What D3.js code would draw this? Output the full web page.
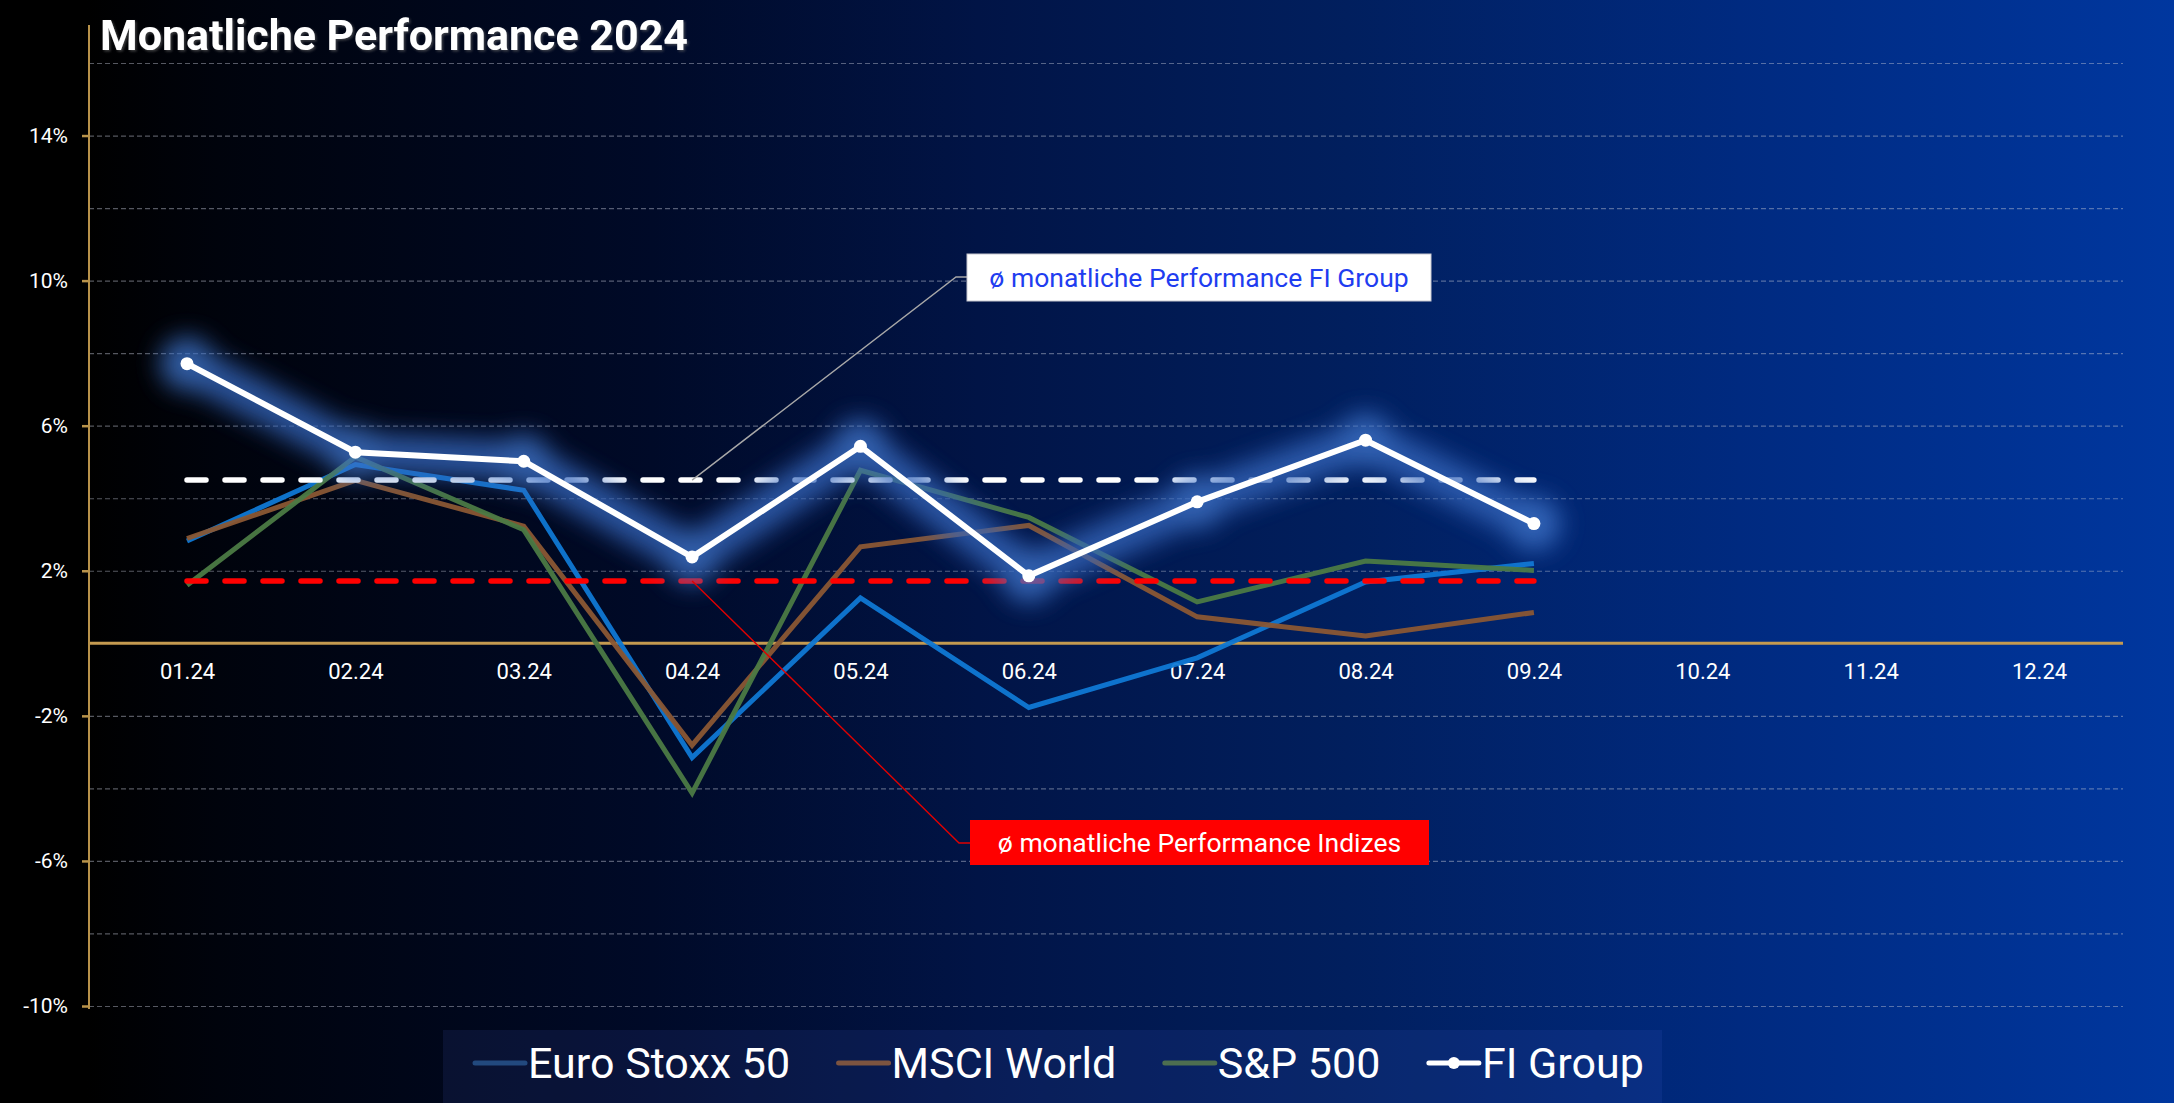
<!DOCTYPE html>
<html>
<head>
<meta charset="utf-8">
<script src="https://cdn.jsdelivr.net/npm/d3@7"></script>
<style>
html,body{margin:0;padding:0;background:#000;overflow:hidden;}
svg{display:block;font-family:Roboto,"Noto Sans",sans-serif;}
</style>
</head>
<body>
<svg id="chart" width="2174" height="1103"></svg>
<script>
// ---- data ----
const months = ["01.24","02.24","03.24","04.24","05.24","06.24","07.24","08.24","09.24","10.24","11.24","12.24"];
const euroStoxx = [2.82, 4.93, 4.22, -3.15, 1.25, -1.77, -0.40, 1.69, 2.20];
const msciWorld = [2.89, 4.49, 3.23, -2.81, 2.66, 3.25, 0.73, 0.20, 0.85];
const sp500     = [1.60, 5.14, 3.13, -4.13, 4.77, 3.47, 1.14, 2.27, 2.01];
const fiGroup   = [7.71, 5.27, 5.02, 2.38, 5.43, 1.86, 3.90, 5.60, 3.30];
const avgFI = 4.50;
const avgIndices = 1.72;
const yTickLabels = [14, 10, 6, 2, -2, -6, -10];
const yGridValues = [-10,-8,-6,-4,-2,2,4,6,8,10,12,14,16];
const seriesNames = ["Euro Stoxx 50","MSCI World","S&P 500","FI Group"];
const titleText = "Monatliche Performance 2024";
const noteFI = "ø monatliche Performance FI Group";
const noteIdx = "ø monatliche Performance Indizes";

// ---- setup ----
const W = 2174, H = 1103;
const svg = d3.select("#chart");
const defs = svg.append("defs");

const bg = defs.append("linearGradient").attr("id","bg").attr("x1","0").attr("x2","1").attr("y1","0").attr("y2","0");
[[0,"#000000"],[0.04,"#000000"],[0.1,"#00030c"],[0.3,"#000a28"],[0.45,"#011446"],[0.62,"#011f5e"],[0.8,"#002a80"],[1,"#00379f"]]
  .forEach(([o,c])=>bg.append("stop").attr("offset",o).attr("stop-color",c));

const glow = defs.append("filter").attr("id","glow")
  .attr("filterUnits","userSpaceOnUse").attr("x",100).attr("y",250).attr("width",1550).attr("height",450);
glow.append("feGaussianBlur").attr("stdDeviation",12);

const tshadow = defs.append("filter").attr("id","tshadow").attr("x","-5%").attr("y","-20%").attr("width","110%").attr("height","150%");
tshadow.append("feDropShadow").attr("dx",1.5).attr("dy",1.5).attr("stdDeviation",0.8).attr("flood-color","#666").attr("flood-opacity",0.6);

svg.append("rect").attr("width",W).attr("height",H).attr("fill","url(#bg)");

const x = d3.scalePoint().domain(months).range([187, 2039]);
const y = d3.scaleLinear().domain([-10, 16]).range([1006, 63]);
const left = 89, right = 2123;

// gridlines
const grid = svg.append("g").attr("transform",`translate(${left},0)`)
  .call(d3.axisLeft(y).tickValues(yGridValues).tickSize(-(right-left)).tickFormat(""));
grid.select(".domain").remove();
grid.selectAll(".tick line").attr("stroke","rgba(190,195,210,0.45)").attr("stroke-width",1.2).attr("stroke-dasharray","5,3");

// zero line
svg.append("line").attr("x1",left).attr("x2",right).attr("y1",y(0)).attr("y2",y(0))
  .attr("stroke","#c49a50").attr("stroke-width",3);

// y axis
const yAxis = svg.append("g").attr("transform",`translate(${left},0)`)
  .call(d3.axisLeft(y).tickValues(yTickLabels).tickSize(7).tickPadding(14).tickFormat(d=>d+"%"));
yAxis.select(".domain").attr("d",`M0,25V1009`).attr("stroke","#b8924a").attr("stroke-width",2);
yAxis.selectAll(".tick line").attr("stroke","#b8924a").attr("stroke-width",2.5);
yAxis.selectAll(".tick text").attr("fill","#fff").attr("font-size",21).attr("font-family","Roboto");

// x axis labels
const xAxis = svg.append("g").attr("transform",`translate(0,${y(0)})`)
  .call(d3.axisBottom(x).tickSize(0).tickPadding(20));
xAxis.select(".domain").remove();
xAxis.selectAll(".tick text").attr("fill","#fff").attr("font-size",22).attr("font-family","Roboto");

// title
svg.append("text").attr("x",100).attr("y",50).attr("fill","#fff")
  .attr("font-size",42).attr("font-weight",700).attr("font-family","Roboto")
  .attr("textLength",588).attr("lengthAdjust","spacingAndGlyphs")
  .attr("filter","url(#tshadow)").text(titleText);

// series lines
const line = d3.line().x((d,i)=>x(months[i])).y(d=>y(d));
const seriesColors = ["#0f78d4","#8a5734","#4b7a44","#ffffff"];
[[euroStoxx,0],[msciWorld,1],[sp500,2]].forEach(([data,k])=>{
  svg.append("path").datum(data).attr("d",line).attr("fill","none")
    .attr("stroke",seriesColors[k]).attr("stroke-width",5).attr("opacity",0.95);
});

// average lines
const xs = x(months[0]), xe = x(months[fiGroup.length-1]);
svg.append("line").attr("x1",xs).attr("x2",xe).attr("y1",y(avgIndices)).attr("y2",y(avgIndices))
  .attr("stroke","#ff0000").attr("stroke-width",5.5).attr("stroke-dasharray","19,19").attr("stroke-linecap","round");
svg.append("line").attr("x1",xs).attr("x2",xe).attr("y1",y(avgFI)).attr("y2",y(avgFI))
  .attr("stroke","#ffffff").attr("stroke-width",5.5).attr("stroke-dasharray","19,19").attr("stroke-linecap","round");

// glow
const gGlow = svg.append("g").attr("filter","url(#glow)").attr("opacity",0.8);
gGlow.append("path").datum(fiGroup).attr("d",line).attr("fill","none")
  .attr("stroke","#3466bc").attr("stroke-width",40).attr("stroke-linejoin","round");
gGlow.selectAll("circle").data(fiGroup).join("circle")
  .attr("cx",(d,i)=>x(months[i])).attr("cy",d=>y(d)).attr("r",27).attr("fill","#3e72c8");

// FI line
svg.append("path").datum(fiGroup).attr("d",line).attr("fill","none")
  .attr("stroke","#fff").attr("stroke-width",6);
svg.append("g").selectAll("circle").data(fiGroup).join("circle")
  .attr("cx",(d,i)=>x(months[i])).attr("cy",d=>y(d)).attr("r",6.5).attr("fill","#fff");

// annotations
const ax = x(months[3]);
// FI note
svg.append("polyline").attr("points",`${ax},${y(avgFI)} 956,277 967,277`)
  .attr("fill","none").attr("stroke","#a8a8a8").attr("stroke-width",1.4);
svg.append("rect").attr("x",967).attr("y",254).attr("width",464).attr("height",47)
  .attr("fill","#fff").attr("stroke","#c8c8d0").attr("stroke-width",1);
svg.append("text").attr("x",1199).attr("y",287).attr("text-anchor","middle")
  .attr("fill","#1f3df0").attr("font-size",26.5).attr("font-family","Roboto").text(noteFI);
// Indices note
svg.append("polyline").attr("points",`${ax},${y(avgIndices)} 959,843 970,843`)
  .attr("fill","none").attr("stroke","#e00000").attr("stroke-width",1.4);
svg.append("rect").attr("x",970).attr("y",820).attr("width",459).attr("height",45)
  .attr("fill","#ff0000");
svg.append("text").attr("x",1199.5).attr("y",852).attr("text-anchor","middle")
  .attr("fill","#fff").attr("font-size",26.5).attr("font-family","Roboto").text(noteIdx);

// legend
svg.append("rect").attr("x",443).attr("y",1030).attr("width",1219).attr("height",73)
  .attr("fill","rgba(70,100,210,0.12)");
const legendColors = ["#22497e","#7d5440","#4d6e50","#ffffff"];
let lx = 475;
seriesNames.forEach((name,i)=>{
  const g = svg.append("g");
  g.append("line").attr("x1",lx).attr("x2",lx+50).attr("y1",1063).attr("y2",1063)
    .attr("stroke",legendColors[i]).attr("stroke-width",5).attr("stroke-linecap","round");
  if(i===3) g.append("circle").attr("cx",lx+25).attr("cy",1063).attr("r",6).attr("fill","#fff");
  const t = g.append("text").attr("x",lx+53).attr("y",1078).attr("fill","#fff")
    .attr("font-size",43).attr("font-family","Roboto").text(name);
  lx += 53 + t.node().getComputedTextLength() + 48.5;
});
</script>
</body>
</html>
